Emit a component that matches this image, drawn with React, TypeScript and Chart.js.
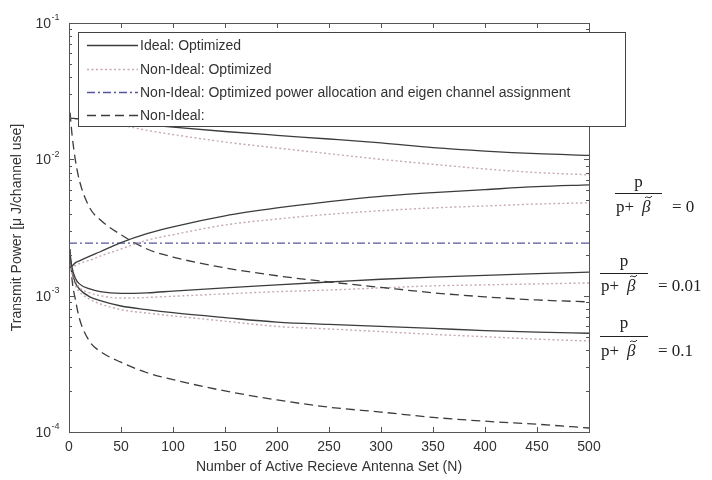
import React, { useEffect, useRef } from 'react';
import { Chart, registerables } from 'chart.js';

Chart.register(...registerables);

// ---- data ----
const N = [1, 3, 6, 10, 20, 30, 50, 75, 100, 150, 200, 250, 300, 350, 400, 450, 500];

const idealTop = [2.0e-2, 2.0e-2, 1.99e-2, 1.98e-2, 1.95e-2, 1.92e-2, 1.86e-2, 1.79e-2, 1.72e-2, 1.6e-2, 1.5e-2, 1.41e-2, 1.32e-2, 1.22e-2, 1.15e-2, 1.1e-2, 1.07e-2];
const nonIdealTop = [2.0e-2, 2.0e-2, 1.98e-2, 1.96e-2, 1.92e-2, 1.88e-2, 1.78e-2, 1.63e-2, 1.52e-2, 1.34e-2, 1.21e-2, 1.1e-2, 1.0e-2, 9.2e-3, 8.5e-3, 8.0e-3, 7.7e-3];
const idealRise = [1.6e-3, 1.65e-3, 1.74e-3, 1.8e-3, 1.95e-3, 2.1e-3, 2.45e-3, 2.85e-3, 3.2e-3, 3.85e-3, 4.4e-3, 4.9e-3, 5.35e-3, 5.7e-3, 6.0e-3, 6.3e-3, 6.5e-3];
const nonIdealRise = [1.6e-3, 1.62e-3, 1.66e-3, 1.72e-3, 1.82e-3, 1.95e-3, 2.2e-3, 2.55e-3, 2.8e-3, 3.3e-3, 3.65e-3, 3.95e-3, 4.2e-3, 4.4e-3, 4.55e-3, 4.7e-3, 4.8e-3];
const nonIdealPlainHigh = [2.2e-2, 1.5e-2, 1.0e-2, 7.0e-3, 4.4e-3, 3.6e-3, 2.8e-3, 2.2e-3, 1.92e-3, 1.6e-3, 1.4e-3, 1.26e-3, 1.15e-3, 1.05e-3, 9.8e-4, 9.3e-4, 9.0e-4];
const idealMid = [2.0e-3, 1.6e-3, 1.35e-3, 1.22e-3, 1.12e-3, 1.07e-3, 1.04e-3, 1.05e-3, 1.08e-3, 1.14e-3, 1.2e-3, 1.26e-3, 1.32e-3, 1.37e-3, 1.41e-3, 1.45e-3, 1.49e-3];
const nonIdealMid = [2.0e-3, 1.55e-3, 1.3e-3, 1.15e-3, 1.05e-3, 1.0e-3, 9.6e-4, 9.7e-4, 9.9e-4, 1.03e-3, 1.07e-3, 1.1e-3, 1.14e-3, 1.18e-3, 1.2e-3, 1.22e-3, 1.24e-3];
const idealLow = [2.0e-3, 1.5e-3, 1.25e-3, 1.12e-3, 9.8e-4, 9.2e-4, 8.4e-4, 7.9e-4, 7.5e-4, 6.9e-4, 6.4e-4, 6.15e-4, 5.95e-4, 5.75e-4, 5.55e-4, 5.4e-4, 5.3e-4];
const nonIdealLow = [2.0e-3, 1.45e-3, 1.2e-3, 1.07e-3, 9.4e-4, 8.7e-4, 7.9e-4, 7.45e-4, 7.1e-4, 6.5e-4, 5.95e-4, 5.7e-4, 5.45e-4, 5.2e-4, 5.0e-4, 4.8e-4, 4.65e-4];
const nonIdealPlainLow = [2.2e-3, 1.3e-3, 9.5e-4, 6.8e-4, 4.6e-4, 3.9e-4, 3.25e-4, 2.72e-4, 2.42e-4, 2.0e-4, 1.72e-4, 1.52e-4, 1.4e-4, 1.28e-4, 1.2e-4, 1.14e-4, 1.07e-4];

const eigenN = [0, 500];
const eigenValues = [2.43e-3, 2.43e-3];

const xTickValues = [0, 50, 100, 150, 200, 250, 300, 350, 400, 450, 500];
const yDecades = [1e-4, 1e-3, 1e-2, 1e-1];
const yDecadeExponents = ['-4', '-3', '-2', '-1'];

const legendLabels = [
  'Ideal: Optimized',
  'Non-Ideal: Optimized',
  'Non-Ideal: Optimized power allocation and eigen channel assignment',
  'Non-Ideal:',
];
const ratioValues = ['0', '0.01', '0.1'];

const xTitle = 'Number of Active Recieve Antenna Set (N)';
const yTitle = 'Transmit Power [\u03BC J/channel use]';

// ---- styles ----
const SANS = '"Liberation Sans", Arial, sans-serif';
const SERIF = '"Liberation Serif", "Times New Roman", serif';
const SOLID = { color: '#3c3c3c', dash: [] as number[], width: 1.3 };
const DOTTED = { color: '#c6a9b0', dash: [2, 2.5], width: 1.4 };
const DASHDOT = { color: '#55559c', dash: [8, 3, 2, 3], width: 1.3 };
const DASHED = { color: '#3c3c3c', dash: [9, 5], width: 1.3 };
const legendStyles = [SOLID, DOTTED, DASHDOT, DASHED];

function mk(xs: number[], ys: number[], st: { color: string; dash: number[]; width: number }) {
  return {
    data: xs.map((x, i) => ({ x, y: ys[i] })),
    borderColor: st.color,
    borderDash: st.dash,
    borderWidth: st.width,
    pointRadius: 0,
    fill: false,
    cubicInterpolationMode: 'monotone' as const,
  };
}

const decorPlugin = {
  id: 'decor',
  afterDraw(chart: any) {
    const { ctx, chartArea: a, scales } = chart;
    const xs = scales.x;
    const ys = scales.y;
    ctx.save();
    // frame
    ctx.strokeStyle = '#555';
    ctx.lineWidth = 1;
    ctx.setLineDash([]);
    ctx.strokeRect(Math.round(a.left) + 0.5, Math.round(a.top) + 0.5, Math.round(a.right - a.left), Math.round(a.bottom - a.top));
    // x ticks (inward, top and bottom)
    ctx.beginPath();
    xTickValues.forEach((v) => {
      const px = Math.round(xs.getPixelForValue(v)) + 0.5;
      ctx.moveTo(px, a.bottom);
      ctx.lineTo(px, a.bottom - 5);
      ctx.moveTo(px, a.top);
      ctx.lineTo(px, a.top + 5);
    });
    // y ticks (major + minor, left and right)
    yDecades.forEach((d, i) => {
      const py = Math.round(ys.getPixelForValue(d)) + 0.5;
      ctx.moveTo(a.left, py);
      ctx.lineTo(a.left + 5, py);
      ctx.moveTo(a.right, py);
      ctx.lineTo(a.right - 5, py);
      if (i < yDecades.length - 1) {
        for (let m = 2; m <= 9; m++) {
          const pm = Math.round(ys.getPixelForValue(d * m)) + 0.5;
          ctx.moveTo(a.left, pm);
          ctx.lineTo(a.left + 3, pm);
          ctx.moveTo(a.right, pm);
          ctx.lineTo(a.right - 3, pm);
        }
      }
    });
    ctx.stroke();

    // y tick labels with superscripts
    ctx.fillStyle = '#333';
    yDecades.forEach((d, i) => {
      const py = ys.getPixelForValue(d);
      ctx.font = '14px ' + SANS;
      ctx.textAlign = 'right';
      ctx.textBaseline = 'middle';
      ctx.fillText('10', 51, py + 1);
      ctx.font = '9px ' + SANS;
      ctx.textAlign = 'left';
      ctx.fillText(yDecadeExponents[i], 51.5, py - 5);
    });

    // legend
    const lx = 78, ly = 32, lw = 547, lh = 94;
    ctx.fillStyle = '#fff';
    ctx.fillRect(lx, ly, lw, lh);
    ctx.strokeStyle = '#444';
    ctx.lineWidth = 1;
    ctx.strokeRect(lx + 0.5, ly + 0.5, lw, lh);
    const rows = [45, 69, 92, 115];
    legendLabels.forEach((label, i) => {
      const st = legendStyles[i];
      ctx.beginPath();
      ctx.strokeStyle = st.color;
      ctx.lineWidth = st.width;
      ctx.setLineDash(st.dash);
      ctx.moveTo(87, rows[i] + 0.5);
      ctx.lineTo(138, rows[i] + 0.5);
      ctx.stroke();
      ctx.setLineDash([]);
      ctx.fillStyle = '#333';
      ctx.font = '14px ' + SANS;
      ctx.textAlign = 'left';
      ctx.textBaseline = 'middle';
      ctx.fillText(label, 140, rows[i] + 1);
    });

    // right-side ratio annotations
    const groups = [
      { x0: 615, x1: 662, lineY: 193, numY: 183, denY: 208, eqX: 672 },
      { x0: 600, x1: 648, lineY: 273, numY: 262, denY: 287, eqX: 658 },
      { x0: 600, x1: 648, lineY: 336, numY: 324, denY: 352, eqX: 658 },
    ];
    groups.forEach((g, i) => {
      ctx.strokeStyle = '#222';
      ctx.lineWidth = 1.2;
      ctx.beginPath();
      ctx.moveTo(g.x0, g.lineY + 0.5);
      ctx.lineTo(g.x1, g.lineY + 0.5);
      ctx.stroke();
      ctx.fillStyle = '#222';
      ctx.font = '17px ' + SERIF;
      ctx.textBaseline = 'middle';
      ctx.textAlign = 'center';
      ctx.fillText('p', (g.x0 + g.x1) / 2, g.numY);
      ctx.textAlign = 'left';
      ctx.fillText('p+', g.x0 + 1, g.denY);
      ctx.font = 'italic 17px ' + SERIF;
      ctx.fillText('\u03B2', g.x0 + 27, g.denY);
      // tilde accent over beta
      ctx.lineWidth = 1;
      ctx.beginPath();
      const tx = g.x0 + 30;
      const ty = g.denY - 11;
      ctx.moveTo(tx, ty + 1);
      ctx.bezierCurveTo(tx + 2, ty - 2, tx + 4, ty + 3, tx + 7, ty - 1);
      ctx.stroke();
      ctx.font = '17px ' + SERIF;
      ctx.fillText('= ' + ratioValues[i], g.eqX, g.denY);
    });
    ctx.restore();
  },
};

export default function App() {
  const ref = useRef<HTMLCanvasElement | null>(null);
  useEffect(() => {
    if (!ref.current) return;
    const chart = new Chart(ref.current, {
      type: 'line',
      data: {
        datasets: [
          mk(N, idealTop, SOLID),
          mk(N, nonIdealTop, DOTTED),
          mk(N, idealRise, SOLID),
          mk(N, nonIdealRise, DOTTED),
          mk(eigenN, eigenValues, DASHDOT),
          mk(N, nonIdealPlainHigh, DASHED),
          mk(N, idealMid, SOLID),
          mk(N, nonIdealMid, DOTTED),
          mk(N, idealLow, SOLID),
          mk(N, nonIdealLow, DOTTED),
          mk(N, nonIdealPlainLow, DASHED),
        ] as any,
      },
      options: {
        responsive: false,
        animation: false,
        layout: { padding: { left: 0, top: 23, right: 123, bottom: 0 } },
        plugins: { legend: { display: false }, tooltip: { enabled: false } },
        scales: {
          x: {
            type: 'linear',
            min: 0,
            max: 500,
            grid: { display: false, drawTicks: false },
            border: { display: false },
            afterBuildTicks: (s: any) => {
              s.ticks = xTickValues.map((v) => ({ value: v }));
            },
            afterFit: (s: any) => {
              s.height = 48;
            },
            ticks: {
              color: '#333',
              padding: 7,
              maxRotation: 0,
              autoSkip: false,
              font: { family: SANS, size: 14 },
              callback: (v: any) => String(v),
            },
            title: {
              display: true,
              text: xTitle,
              color: '#333',
              font: { family: SANS, size: 14 },
              padding: { top: 0, bottom: 4 },
            },
          },
          y: {
            type: 'logarithmic',
            min: 1e-4,
            max: 1e-1,
            grid: { display: false, drawTicks: false },
            border: { display: false },
            ticks: { display: false },
            afterFit: (s: any) => {
              s.width = 69;
            },
            title: {
              display: true,
              text: yTitle,
              color: '#333',
              font: { family: SANS, size: 14 },
              padding: { top: 9, bottom: 0 },
            },
          },
        },
      },
      plugins: [decorPlugin],
    } as any);
    return () => chart.destroy();
  }, []);
  return (
    <div style={{ position: 'absolute', left: 0, top: 0, width: 712, height: 480, background: '#fff' }}>
      <canvas ref={ref} width={712} height={480} style={{ display: 'block' }} />
    </div>
  );
}
